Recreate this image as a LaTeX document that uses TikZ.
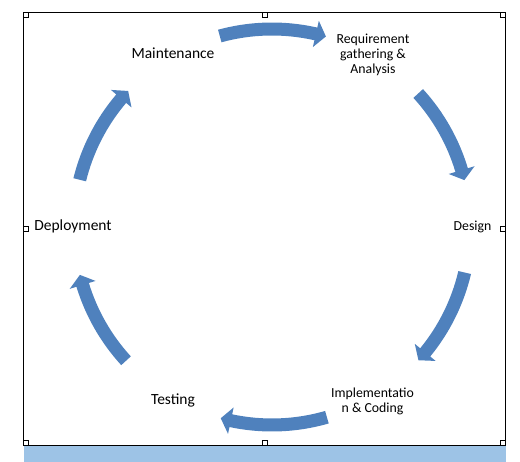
\documentclass[tikz,border=0pt]{standalone}
\usepackage{fontspec}
\setmainfont{Carlito}
\definecolor{sdlcblue}{RGB}{79,129,189}
\definecolor{sdlcbar} {RGB}{157,195,230}
\usetikzlibrary{positioning}
\tikzset{
  stage/.style={align=center,inner sep=1pt,text=black,
                font=\fontsize{15.5}{18}\selectfont},
  substage/.style={align=center,inner sep=1pt,text=black,
                   font=\fontsize{13.8}{15}\selectfont},
  frame/.style={rectangle,draw=black,line width=0.9pt,outer sep=0pt,
                minimum width=482pt,minimum height=433pt,inner sep=0pt},
  handle/.style={rectangle,draw=black,fill=white,line width=0.6pt,
                 outer sep=0pt,inner sep=0pt,minimum size=5pt},
  cyclefill/.style={fill=sdlcblue},
}
% curved block arrow on the cycle: #1 tail angle, #2 tip angle
\newcommand{\cyclearrow}[2]{%
  \pgfmathsetmacro{\headang}{#2+3}%
  \fill[cyclefill] (#1:204.5) arc[start angle=#1,end angle=\headang,radius=204.5]
    -- (\headang:211.5) -- (#2:198) -- (\headang:184.5) -- (\headang:191.5)
    arc[start angle=\headang,end angle=#1,radius=191.5] -- cycle;}

\begin{document}
\begin{tikzpicture}[x=1pt,y=1pt]
    \useasboundingbox (0,0) rectangle (520,462);
    \fill[sdlcbar] (23.5,0) rectangle (505.5,16.5);
    \node[frame] (frame) at (264.5,233.5) {};
    \node[handle,anchor=north west] (hnw) at (frame.north west) {};
    \node[handle,anchor=north]      (hn)  at (frame.north) {};
    \node[handle,anchor=north east] (hne) at (frame.north east) {};
    \node[handle,anchor=west]       (hw)  at (frame.west) {};
    \node[handle,anchor=east]       (he)  at (frame.east) {};
    \node[handle,anchor=south west] (hsw) at (frame.south west) {};
    \node[handle,anchor=south]      (hs)  at (frame.south) {};
    \node[handle,anchor=south east] (hse) at (frame.south east) {};

    \node[stage]    (maint)  at (173,409)   {Maintenance};
    \node[substage] (req)    at (373,407)   {Requirement\\gathering \&\\Analysis};
    \node[substage] (design) at (472.5,235) {Design};
    \node[substage] (impl)   at (372.5,61)  {Implementatio\\n \& Coding};
    \node[stage]    (test)   at (173,61.5)  {Testing};
    \node[stage]    (deploy) at (73,236)    {Deployment};

    \coordinate (hub) at (272,235);
    \begin{scope}[shift={(hub)}]
      \cyclearrow{105.3}{74.2}
      \cyclearrow{42.4}{13.7}
      \cyclearrow{-13.3}{-42.3}
      \cyclearrow{-73.9}{-105}
      \cyclearrow{-137.5}{-166}
      \cyclearrow{166.2}{136.6}
    \end{scope}
  \end{tikzpicture}
\end{document}
